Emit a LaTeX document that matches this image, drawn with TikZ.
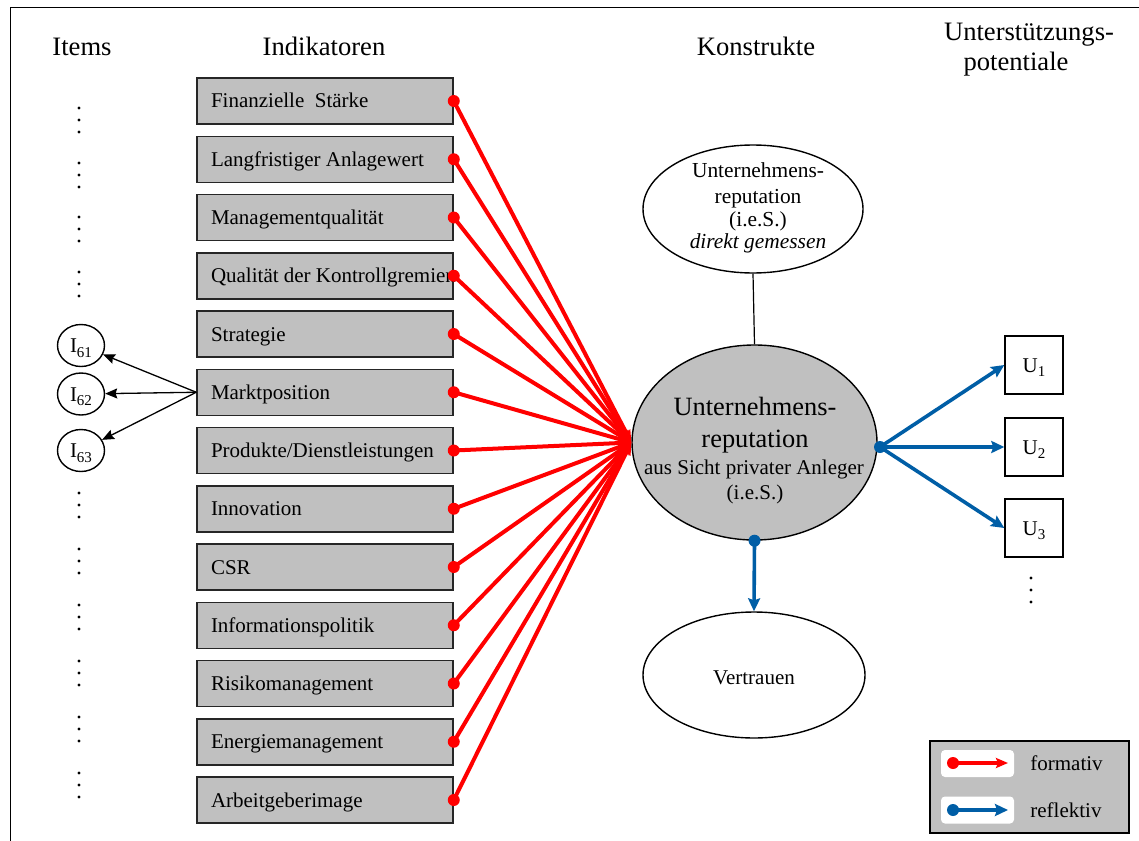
\documentclass[tikz,border=0pt]{standalone}
\usepackage{fontspec}
\setmainfont{Liberation Serif}
\usetikzlibrary{arrows.meta,shapes.geometric}
\definecolor{boxgray}{RGB}{192,192,192}
\definecolor{reflblue}{RGB}{0,94,166}
\definecolor{formred}{RGB}{255,0,0}
\newcommand{\lowsub}[1]{\raisebox{-0.5ex}{\fontsize{7.5}{8}\selectfont #1}}

\begin{document}
\begin{tikzpicture}[x=0.5pt,y=-0.5pt,
  hdr/.style={font=\fontsize{13.3}{15}\selectfont, inner sep=0pt, text height=8.8pt, text depth=0pt},
  ind/.style={draw=black!85, line width=0.75pt, fill=boxgray, minimum width=128pt,
    minimum height=23pt, inner sep=0pt, text height=7pt, text depth=0pt,
    font=\fontsize{10.5}{12}\selectfont},
  oval/.style={ellipse, draw=black, line width=0.7pt, inner sep=0pt},
  item/.style={ellipse, draw=black, line width=0.7pt, fill=white, minimum width=23.5pt,
    minimum height=21pt, inner sep=0pt, text height=7pt, text depth=0pt,
    font=\fontsize{10.5}{12}\selectfont},
  ubox/.style={draw=black, line width=0.7pt, fill=white, minimum size=29pt, inner sep=0pt,
    text height=7pt, text depth=0pt, font=\fontsize{10.5}{12}\selectfont},
  txt/.style={inner sep=0pt, font=\fontsize{10.5}{12}\selectfont},
  formline/.style={draw=formred, line width=2pt, -{Stealth[length=6pt,width=5pt,inset=1pt]}},
  reflline/.style={draw=reflblue, line width=1.8pt, -{Stealth[length=6.5pt,width=6pt,inset=1pt]}},
  itemline/.style={draw=black, line width=0.65pt, -{Stealth[length=6pt,width=5pt,inset=0.8pt]}},
  fdot/.style={fill=formred},
  bdot/.style={fill=reflblue},
]
\useasboundingbox (0,0) rectangle (1139,840);
\clip (0,0) rectangle (1139,840);

% outer frame
\draw[line width=0.7pt] (10.5,7.5) rectangle (1400,1000);

% column headings
\node[hdr] (hItems) at (82,47) {Items};
\node[hdr] (hInd) at (324,47) {Indikatoren};
\node[hdr] (hKon) at (756,47) {Konstrukte};
\node[hdr] (hU1) at (1029,32) {Unterstützungs-};
\node[hdr] (hU2) at (1016,62) {potentiale};

% indicator boxes
\foreach \t [count=\i] in {Finanzielle\ \ Stärke, Langfristiger Anlagewert, Managementqualität,
  Qualität der Kontrollgremien, Strategie, Marktposition, {Produkte/Dienstleistungen},
  Innovation, CSR, Informationspolitik, Risikomanagement, Energiemanagement, Arbeitgeberimage}{
  \node[ind] (b\i) at (325,{101+(\i-1)*58.25}) {\makebox[114pt][l]{\t}};
}

% item dots
\foreach \y in {108,163,217,272,493,549,605,661,717,773}{
  \foreach \d in {0,12,24}{
    \fill ({79},{\y+\d}) circle (0.85pt);
  }
}

% items of Marktposition
\node[item] (i61) at (81,345.5) {I\lowsub{61}};
\node[item] (i62) at (81,394) {I\lowsub{62}};
\node[item] (i63) at (81,450.5) {I\lowsub{63}};
\draw[itemline] (b6.west) -- (i61);
\draw[itemline] (b6.west) -- (i62);
\draw[itemline] (b6.west) -- (i63);

% constructs
\node[oval, fill=white, minimum width=110pt, minimum height=64pt] (T) at (753,209) {};
\node[oval, fill=boxgray, minimum width=122.5pt, minimum height=97.5pt] (R) at (754.5,442.5) {};
\node[oval, fill=white, minimum width=111pt, minimum height=63pt] (V) at (754,675) {};
\draw[line width=0.6pt] (T.south) -- (R.north);

\begin{scope}[every node/.style={inner sep=0pt, anchor=base, font=\fontsize{10.7}{12}\selectfont}]
  \node (t1) at (758,177) {Unternehmens-};
  \node (t2) at (758,203) {reputation};
  \node (t3) at (758,226) {(i.e.S.)};
  \node (t4) at (758,248) {\itshape direkt gemessen};
\end{scope}

\begin{scope}[every node/.style={inner sep=0pt, anchor=base}]
  \node[font=\fontsize{13.2}{15}\selectfont] (r1) at (755,415) {Unternehmens-};
  \node[font=\fontsize{13.2}{15}\selectfont] (r2) at (755,447) {reputation};
  \node[font=\fontsize{10.5}{13}\selectfont] (r3) at (754,474) {aus Sicht privater Anleger};
  \node[font=\fontsize{10.5}{13}\selectfont] (r4) at (755,499) {(i.e.S.)};
\end{scope}

\node[txt, text height=7pt, text depth=0pt] (vt) at (754,677) {Vertrauen};

% formative indicators
\foreach \i in {1,...,13}{
  \draw[formline] (b\i.east) -- (R.west);
}
\foreach \i in {1,...,13}{
  \fill[fdot] (b\i.east) circle (3pt);
}

% reflective measures
\node[ubox] (u1) at (1034,365) {U\lowsub{1}};
\node[ubox] (u2) at (1034,447) {U\lowsub{2}};
\node[ubox] (u3) at (1034,528) {U\lowsub{3}};
\foreach \y in {578,590,602}{
  \fill ({1031},{\y}) circle (0.85pt);
}
\coordinate (rdot) at (880,447);
\draw[reflline] (rdot) -- (u1.west);
\draw[reflline] (rdot) -- (u2.west);
\draw[reflline] (rdot) -- (u3.west);
\fill[bdot] (rdot) circle (3pt);
\draw[reflline] (R.south) -- (V.north);
\fill[bdot] (R.south) circle (3pt);

% legend
\node[draw=black, line width=0.7pt, fill=boxgray, minimum width=99.5pt, minimum height=46pt,
  inner sep=0pt] (leg) at (1029.5,787) {};
\node[fill=white, rounded corners=2pt, minimum width=36.5pt, minimum height=13.5pt,
  inner sep=0pt] (lf) at (977.5,763.5) {};
\node[fill=white, rounded corners=2pt, minimum width=36.5pt, minimum height=13.5pt,
  inner sep=0pt] (lr) at (977.5,810) {};
\coordinate (lfa) at (953,763);
\coordinate (lfb) at (1008,763);
\coordinate (lra) at (953,810);
\coordinate (lrb) at (1008,810);
\draw[formline] (lfa) -- (lfb);
\fill[fdot] (lfa) circle (3pt);
\draw[reflline] (lra) -- (lrb);
\fill[bdot] (lra) circle (3pt);
\node[txt, anchor=west, text height=7pt, text depth=0pt] (lft) at (1030,763) {formativ};
\node[txt, anchor=west, text height=7pt, text depth=0pt] (lrt) at (1030,810) {reflektiv};
\end{tikzpicture}
\end{document}
